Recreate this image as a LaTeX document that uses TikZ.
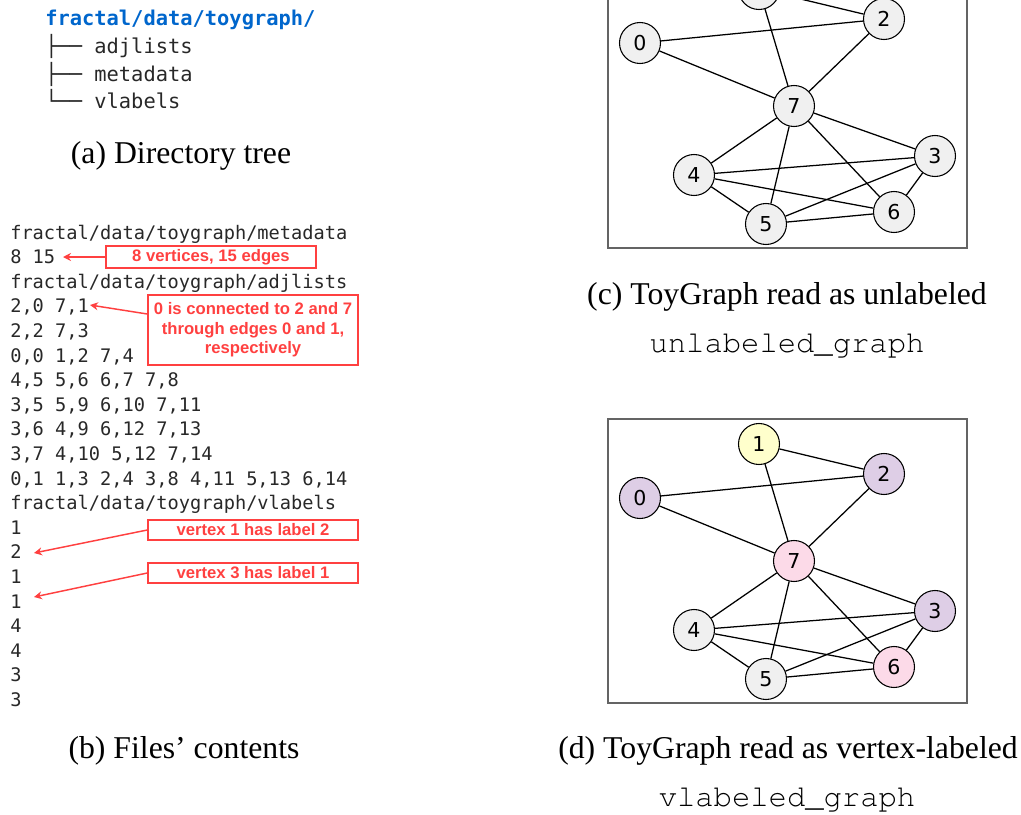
\documentclass[tikz,border=0pt]{standalone}
\usepackage{fontspec}
\setmainfont{Liberation Serif}
\setmonofont{DejaVu Sans Mono}
\newfontfamily\notefont{Liberation Sans}
\newfontfamily\codefont{texgyrecursor-regular.otf}
\newfontfamily\vtxfont{DejaVu Sans}
\usetikzlibrary{arrows.meta,calc}

\definecolor{dirblue}{RGB}{0,102,204}
\definecolor{notered}{RGB}{255,64,64}
\definecolor{listing}{RGB}{40,40,40}
\definecolor{vgrey}{RGB}{240,240,240}
\definecolor{vpurple}{RGB}{222,206,230}
\definecolor{vyellow}{RGB}{255,255,204}
\definecolor{vpink}{RGB}{252,218,232}
\definecolor{framegrey}{RGB}{100,100,100}

\tikzset{
  treeline/.style={anchor=base west, inner sep=0pt, text=listing,
    font=\ttfamily\fontsize{15.3}{18}\selectfont},
  fileline/.style={anchor=base west, inner sep=0pt, text=listing,
    font=\ttfamily\fontsize{14}{17}\selectfont},
  caption/.style={anchor=base, inner sep=0pt,
    font=\rmfamily\fontsize{23.8}{28}\selectfont},
  codename/.style={anchor=base, inner sep=0pt,
    font=\codefont\fontsize{22.9}{27}\selectfont},
  note/.style={draw=notered, line width=1.1pt, text=notered, inner sep=0pt,
    font=\notefont\bfseries\fontsize{12.5}{14.6}\selectfont, align=center,
    minimum width=157.5pt},
  notearrow/.style={draw=notered, line width=1.1pt,
    -{Stealth[length=6pt,width=6pt]}},
  vtx/.style={circle, draw=black, line width=0.8pt, fill=vgrey,
    minimum size=30.75pt, inner sep=0pt,
    font=\vtxfont\fontsize{15.4}{18}\selectfont},
  edge/.style={draw=black, line width=0.95pt},
  gframe/.style={draw=framegrey, line width=1.1pt},
}

\begin{document}
\begin{tikzpicture}[x=0.75pt,y=-0.75pt]
\useasboundingbox (0,0) rectangle (1021,814);
\clip (0,0) rectangle (1021,814);

% ---------- (a) directory tree ----------
\node[treeline, text=dirblue, font=\ttfamily\bfseries\fontsize{15.3}{18}\selectfont]
  (root) at (45,25) {fractal/data/toygraph/};
\node[treeline] (ta) at (45,53)  {├── adjlists};
\node[treeline] (tm) at (45,81)  {├── metadata};
\node[treeline] (tv) at (45,108) {└── vlabels};
\node[caption] (capa) at (181,163) {(a) Directory tree};

% ---------- (b) file contents ----------
\foreach \i/\t in {
  1/fractal\slash data\slash toygraph\slash metadata,
  2/8 15,
  3/fractal\slash data\slash toygraph\slash adjlists,
  4/{2,0 7,1},
  5/{2,2 7,3},
  6/{0,0 1,2 7,4},
  7/{4,5 5,6 6,7 7,8},
  8/{3,5 5,9 6,10 7,11},
  9/{3,6 4,9 6,12 7,13},
  10/{3,7 4,10 5,12 7,14},
  11/{0,1 1,3 2,4 3,8 4,11 5,13 6,14},
  12/fractal\slash data\slash toygraph\slash vlabels,
  13/1, 14/2, 15/1, 16/1, 17/4, 18/4, 19/3, 20/3}
  \node[fileline] (f\i) at (10,{239+24.6*(\i-1)}) {\t};

% annotations
\node[note, minimum height=16.5pt] (n1) at (211,257) {8 vertices, 15 edges};
\coordinate (t1) at (63,257);
\draw[notearrow] (n1.west) -- (t1);

\node[note, minimum height=52.5pt, text depth=3pt] (n2) at (253,330)
  {0 is connected to 2 and 7\\through edges 0 and 1,\\respectively};
\coordinate (t2) at (90,305);
\draw[notearrow] ($(n2.west)+(0,-16)$) -- (t2);

\node[note, minimum height=15pt] (n3) at (253,530) {vertex 1 has label 2};
\coordinate (t3) at (34,553);
\draw[notearrow] (n3.west) -- (t3);

\node[note, minimum height=15pt] (n4) at (253,573) {vertex 3 has label 1};
\coordinate (t4) at (34,597);
\draw[notearrow] (n4.west) -- (t4);

\node[caption] (capb) at (184,758) {(b) Files' contents};

% ---------- (c) unlabeled graph ----------
\begin{scope}[shift={(0,-455)}]
  \draw[gframe] (608,419) rectangle (967,703);
  \foreach \n/\x/\y in {0/640/498, 1/759/444, 2/884/474, 3/935/611,
                        4/694/630, 5/766/679, 6/894/667, 7/794/561}
    \node[vtx] (c\n) at (\x,\y) {\n};
  \foreach \a/\b in {0/2,0/7,1/2,1/7,2/7,7/3,7/4,7/5,7/6,4/3,4/5,4/6,3/5,3/6,5/6}
    \draw[edge] (c\a) -- (c\b);
\end{scope}
\node[caption] (capc) at (787,304) {(c) ToyGraph read as unlabeled};
\node[codename] (namec) at (787,352) {unlabeled\_graph};

% ---------- (d) vertex-labeled graph ----------
\draw[gframe] (608,419) rectangle (967,703);
\foreach \n/\x/\y/\c in {0/640/498/vpurple, 1/759/444/vyellow, 2/884/474/vpurple,
                         3/935/611/vpurple, 4/694/630/vgrey, 5/766/679/vgrey,
                         6/894/667/vpink, 7/794/561/vpink}
  \node[vtx, fill=\c] (d\n) at (\x,\y) {\n};
\foreach \a/\b in {0/2,0/7,1/2,1/7,2/7,7/3,7/4,7/5,7/6,4/3,4/5,4/6,3/5,3/6,5/6}
  \draw[edge] (d\a) -- (d\b);
\node[caption] (capd) at (788,758) {(d) ToyGraph read as vertex-labeled};
\node[codename] (named) at (787,806) {vlabeled\_graph};
\end{tikzpicture}
\end{document}
